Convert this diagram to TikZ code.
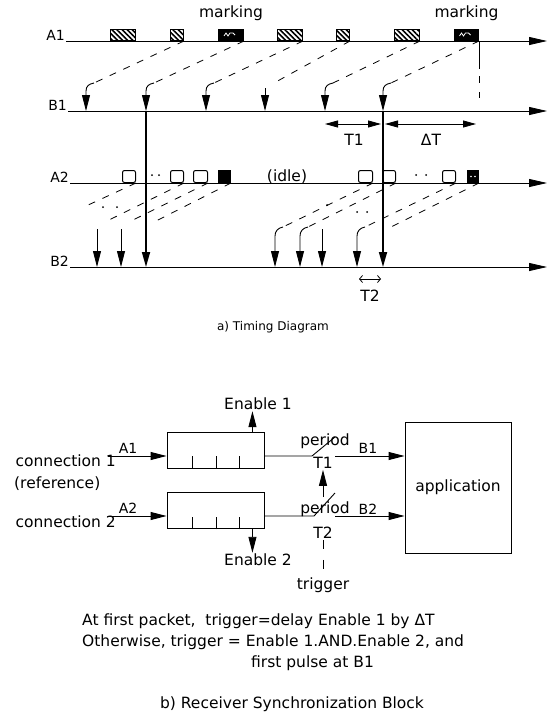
\documentclass[tikz,border=0pt]{standalone}
\usepackage{fontspec}
\setmainfont{DejaVu Sans}
\usepackage{tikz}
\usetikzlibrary{positioning,arrows.meta,calc,patterns.meta}
\newcommand{\bigfont}{\fontsize{15.5}{19}\selectfont}
\newcommand{\tagfont}{\fontsize{14}{16}\selectfont}
\newcommand{\capfont}{\fontsize{12}{14}\selectfont}
\tikzset{
  axis/.style={line width=0.8pt,-{Triangle[length=18pt,width=8pt]}},
  pulse/.style={line width=0.9pt,-{Triangle[length=16pt,width=8pt]}},
  longpulse/.style={line width=1.7pt,-{Triangle[length=15pt,width=8pt]}},
  delay/.style={line width=0.8pt,dash pattern=on 7pt off 8pt},
  packet/.style={draw,line width=1pt,inner sep=0pt,anchor=south west,minimum height=11pt},
  hatched/.style={packet,pattern={Lines[angle=-45,distance=3.6pt,line width=1.6pt]}},
  marked/.style={packet,fill=black},
  cell/.style={packet,minimum height=12pt,rounded corners=2pt,fill=white},
  lbl/.style={font=\bigfont,inner sep=1pt},
  tag/.style={font=\tagfont,inner sep=1pt},
  buffer/.style={draw,line width=0.9pt,minimum width=97pt,minimum height=36pt},
  appbox/.style={draw,line width=0.9pt,minimum width=106pt,minimum height=131pt,font=\bigfont},
  wire/.style={line width=0.9pt},
  arrow/.style={wire,-{Triangle[length=16pt,width=8pt]}},
  span/.style={line width=0.8pt,{Triangle[length=13pt,width=7pt]}-{Triangle[length=13pt,width=7pt]}},
  gap/.style={line width=0.8pt,{Straight Barb[length=3pt,width=7pt]}-{Straight Barb[length=3pt,width=7pt]}}
}

\begin{document}
\begin{tikzpicture}[x=1pt,y=-1pt]
  \useasboundingbox (0,0) rectangle (548,712);

  % a) timing diagram: the four time lines
  \node[tag,anchor=east] (labA1) at (66,35) {A1};
  \node[tag,anchor=east] (labB1) at (68,105) {B1};
  \node[tag,anchor=east] (labA2) at (70,177) {A2};
  \node[tag,anchor=east] (labB2) at (70,261) {B2};
  \coordinate (endA1) at (547,41);
  \coordinate (endB1) at (547,111);
  \coordinate (endA2) at (547,183);
  \coordinate (endB2) at (547,267);
  \draw[axis] (labA1.east |- endA1) -- (endA1);
  \draw[axis] (labB1.east |- endB1) -- (endB1);
  \draw[axis] (labA2.east |- endA2) -- (endA2);
  \draw[axis] (labB2.east |- endB2) -- (endB2);

  % packets on A1
  \foreach \a/\b/\s [count=\i] in {110/135/hatched,170/183/hatched,218/243/marked,
      277/302/hatched,336/349/hatched,394/419/hatched,454/478/marked}
    \node[\s,minimum width={\b-\a}] (pa\i) at (\a,41) {};
  \foreach \p in {pa3,pa7}
    \draw[white,line width=0.8pt] ($(\p.center)+(-7,1)$) -- ++(2,-3) -- ++(2,3) -- ++(2,-3) -- ++(3,0) -- ++(2,2);
  \node[lbl,above=7pt of pa3] (mk1) {marking};
  \node[lbl,above=7pt of pa7] (mk2) {marking};

  % pulses on B1
  \foreach \x [count=\i] in {86,146,206,265,325,383}{
    \coordinate (hb\i) at (\x+8,83);
    \coordinate (fb\i) at (\x,111);
  }
  \foreach \i/\j in {1/2,2/3,3/4,5/6,6/7}{
    \draw[delay] (pa\j.south east) -- (hb\i);
    \draw[pulse] (hb\i) .. controls +(-5,1) and +(0,-5) .. ($(fb\i)+(0,-20)$) -- (fb\i);
  }
  \draw[delay] (pa5.south east) -- ($(fb4)+(9,-28)$);
  \draw[pulse] ($(fb4)+(0,-23)$) -- (fb4);
  \draw[line width=0.8pt,dash pattern=on 28pt off 7pt on 7pt off 9pt on 6pt off 20pt]
    (pa7.south east) -- ++(0,58);

  \draw[span] ($(fb5)+(0,13)$) -- ($(fb6)+(-2,13)$);
  \draw[span] ($(fb6)+(2,13)$) -- ($(pa7.south east |- fb6)+(-3,13)$);
  \node[lbl] (T1) at ($(fb5)!0.5!(fb6)+(0,29)$) {T1};
  \node[lbl] (dT) at ($(fb6)!0.5!(pa7.south east |- fb6)+(0,29)$) {ΔT};

  % packets on A2
  \foreach \a/\b/\s [count=\i] in {122/135/cell,170/183/cell,193/207/cell,218/230/marked,
      358/372/cell,382/395/cell,442/455/cell,467/478/marked}
    \node[\s,minimum width={\b-\a},minimum height=12pt] (pb\i) at (\a,183) {};
  \fill[white] ($(pb8.center)+(-2,0)$) circle (0.9pt) ($(pb8.center)+(2,0)$) circle (0.9pt);
  \node[lbl,anchor=base] (idle) at (287,181) {(idle)};
  \foreach \a/\b in {152/175,159/175,416/175,426/175,103/207,117/207,327/205,357/212,367/212}
    \fill (\a,\b) circle (1pt);

  % pulses on B2
  \foreach \x [count=\i] in {97,121,275,300,322,357}
    \coordinate (fq\i) at (\x,267);
  \foreach \i in {1,2,5}
    \draw[pulse] ($(fq\i)+(0,-38)$) -- (fq\i);
  \foreach \i in {3,4,6}
    \draw[pulse] ($(fq\i)+(8,-40)$) .. controls +(-5,1) and +(0,-5) .. ($(fq\i)+(0,-31)$) -- (fq\i);
  \draw[longpulse] (fb2) -- (fb2 |- endB2);
  \draw[longpulse] (fb6) -- (fb6 |- endB2);

  \draw[delay] (pb1.south east) -- ++(-50,23);
  \draw[delay] (pb2.south east) -- ($(fq1)+(10,-46)$);
  \draw[delay] (pb3.south east) -- ($(fq2)+(10,-46)$);
  \draw[delay] (pb4.south east) -- ($(fb2 |- endB2)+(10,-46)$);
  \draw[delay] (pb5.south east) -- ($(fq3)+(8,-40)$);
  \draw[delay] (pb6.south east) -- ($(fq4)+(8,-40)$);
  \draw[delay] (pb7.south east) -- ($(fq6)+(8,-40)$);
  \draw[delay] (pb8.south east) -- ($(fb6 |- endB2)+(4,-38)$);

  \draw[gap] ($(fq6)+(2,12)$) -- ($(fb6 |- endB2)+(-2,12)$);
  \node[lbl] (T2) at (370,296) {T2};

  \node[font=\capfont] (capA) at (273,327) {a) Timing Diagram};

  % b) receiver synchronization block
  \node[buffer] (buf1) at (215.5,450) {};
  \node[buffer,below=24pt of buf1] (buf2) {};
  \foreach \b in {buf1,buf2}
    \foreach \t in {26,50,73}
      \draw[wire] ($(\b.south west)+(\t,0)$) -- ++(0,-12);

  \node[lbl,anchor=base east] (con1) at (117,466) {connection 1};
  \node[lbl,anchor=base west] (ref1) at (13,488) {(reference)};
  \node[lbl,anchor=base east] (con2) at (117,527) {connection 2};
  \coordinate (in1) at (108,456);
  \coordinate (in2) at (108,516);
  \draw[arrow] (in1) -- (in1 -| buf1.west);
  \draw[arrow] (in2) -- (in2 -| buf2.west);
  \node[tag,anchor=south] (a1in) at (128,455) {A1};
  \node[tag,anchor=south] (a2in) at (128,515) {A2};

  \node[lbl] (en1) at (258,404) {Enable 1};
  \node[lbl] (en2) at (258,560) {Enable 2};
  \coordinate (e1) at ($(buf1.north east)+(-12,0)$);
  \coordinate (e2) at ($(buf2.south east)+(-12,0)$);
  \draw[arrow] (e1) -- (e1 |- en1.south);
  \draw[arrow] (e2) -- (e2 |- en2.north);

  \node[appbox] (app) at (458,487.5) {application};

  \coordinate (sw1) at (312,456);
  \coordinate (sw1o) at (335,456);
  \draw[wire] (in1 -| buf1.east) -- (sw1) -- ++(23,-19);
  \draw[arrow] (sw1o) -- (sw1o -| app.west);
  \node[lbl] (per1) at (325,441) {period};
  \node[lbl] (t1b) at (323,463) {T1};
  \node[tag,anchor=south] (b1out) at (368,455) {B1};

  \coordinate (sw2) at (314,516);
  \coordinate (sw2o) at (335,516);
  \draw[wire] (in2 -| buf2.east) -- (sw2) -- ++(21,-23);
  \draw[arrow] (sw2o) -- (sw2o -| app.west);
  \node[lbl] (per2) at (325,509) {period};
  \node[lbl] (t2b) at (323,533) {T2};
  \node[tag,anchor=south] (b2out) at (368,516) {B2};

  \node[lbl] (trig) at (323,585) {trigger};
  \coordinate (tr0) at (323,497);
  \draw[arrow] (tr0) -- (tr0 |- t1b.south);
  \draw[line width=0.8pt,dash pattern=on 9pt off 11pt] (t2b.south) -- (trig.north);

  \node[lbl,anchor=base west] (note1) at (81,625) {At first packet,\ \ trigger=delay Enable 1 by ΔT};
  \node[lbl,anchor=base west] (note2) at (81,646) {Otherwise, trigger = Enable 1.AND.Enable 2, and};
  \node[lbl,anchor=base west] (note3) at (250,667) {first pulse at B1};
  \node[lbl,anchor=base] (capB) at (292,708) {b) Receiver Synchronization Block};
\end{tikzpicture}
\end{document}
